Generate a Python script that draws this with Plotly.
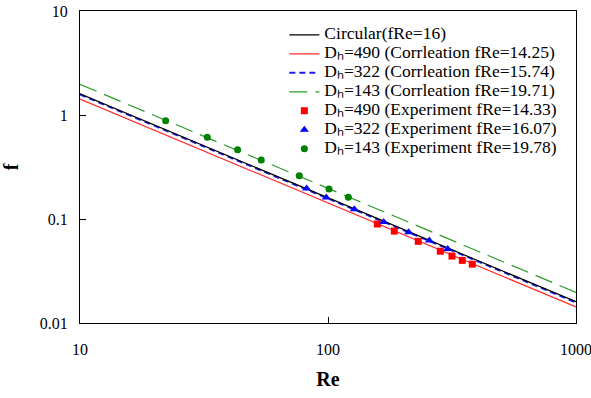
import plotly.graph_objects as go

# Correlation lines: f = (fRe) / Re over the plotted Reynolds range
re_line = [10, 1000]
fre_circular = 16
fre_490 = 14.25
fre_322 = 15.74
fre_143 = 19.71

# Experimental points (Re, f)
re_exp_490 = [158.1, 185.1, 231.2, 283.7, 316.2, 347.9, 381.8]
f_exp_490 = [0.0895, 0.0765, 0.0610, 0.0490, 0.0440, 0.0400, 0.0368]

re_exp_322 = [82.0, 98.4, 127.7, 167.7, 211.5, 256.2, 303.9]
f_exp_322 = [0.196, 0.161, 0.124, 0.0935, 0.0745, 0.0620, 0.0515]

re_exp_143 = [22.15, 32.6, 43.2, 53.8, 76.6, 100.9, 120.8]
f_exp_143 = [0.882, 0.610, 0.464, 0.369, 0.261, 0.194, 0.162]

x_ticks = [10, 100, 1000]
x_ticktext = ["10", "100", "1000"]
y_ticks = [0.01, 0.1, 1, 10]
y_ticktext = ["0.01", "0.1", "1", "10"]

FONT = "Liberation Serif, Times New Roman, serif"
SUB_H = "\u2095"  # subscript h


def corr(fre):
    return [fre / r for r in re_line]


def label(text):
    # legend rows are spaced from the small legend font; text itself is larger
    return f'<span style="font-size:17.5px">{text}</span>'


def dh(d, rest):
    return label(f"D{SUB_H}={d} ({rest})")


fig = go.Figure()

fig.add_trace(go.Scatter(
    x=re_line, y=corr(fre_322), mode="lines",
    name=dh(322, "Corrleation fRe=15.74"),
    line=dict(color="#1a1aff", width=2, dash="6px,4px"), legendrank=3))
fig.add_trace(go.Scatter(
    x=re_line, y=corr(fre_490), mode="lines",
    name=dh(490, "Corrleation fRe=14.25"),
    line=dict(color="#ff2a2a", width=1.2), legendrank=2))
fig.add_trace(go.Scatter(
    x=re_line, y=corr(fre_143), mode="lines",
    name=dh(143, "Corrleation fRe=19.71"),
    line=dict(color="#2a9a2a", width=1.2, dash="18px,8px"), legendrank=4))
fig.add_trace(go.Scatter(
    x=re_line, y=corr(fre_circular), mode="lines",
    name=label("Circular(fRe=16)"),
    line=dict(color="black", width=1.2), legendrank=1))

fig.add_trace(go.Scatter(
    x=re_exp_490, y=f_exp_490, mode="markers",
    name=dh(490, "Experiment fRe=14.33"),
    marker=dict(symbol="square", color="#ff0000", size=7), legendrank=5))
fig.add_trace(go.Scatter(
    x=re_exp_322, y=f_exp_322, mode="markers",
    name=dh(322, "Experiment fRe=16.07"),
    marker=dict(symbol="triangle-up", color="#0000ff", size=8), legendrank=6))
fig.add_trace(go.Scatter(
    x=re_exp_143, y=f_exp_143, mode="markers",
    name=dh(143, "Experiment fRe=19.78"),
    marker=dict(symbol="circle", color="#008000", size=7), legendrank=7))

axis_common = dict(
    type="log", showgrid=False, zeroline=False, automargin=False,
    showline=True, linecolor="black", linewidth=1.3, mirror=True,
    ticks="inside", ticklen=6, tickwidth=1, tickcolor="black",
    ticklabeloverflow="allow",
    tickfont=dict(family=FONT, size=16, color="black"),
)

fig.update_layout(
    width=591, height=398,
    margin=dict(l=80, r=15, t=11, b=75),
    paper_bgcolor="white", plot_bgcolor="white",
    font=dict(family=FONT, color="black"),
    xaxis=dict(axis_common, range=[1, 3], tickvals=x_ticks, ticktext=x_ticktext,
               ticklabelstandoff=12,
               title=dict(text="<b>Re</b>", font=dict(family=FONT, size=20), standoff=14)),
    yaxis=dict(axis_common, range=[-2, 1], tickvals=y_ticks, ticktext=y_ticktext,
               ticklabelstandoff=8,
               title=dict(text="<b>f</b>", font=dict(family=FONT, size=20), standoff=25)),
    legend=dict(x=0.412, y=0.97, xanchor="left", yanchor="top",
                bgcolor="rgba(0,0,0,0)", borderwidth=0,
                font=dict(family=FONT, size=11.5, color="black"),
                tracegroupgap=0, itemwidth=30),
    showlegend=True,
)

fig.write_html("out.html")
